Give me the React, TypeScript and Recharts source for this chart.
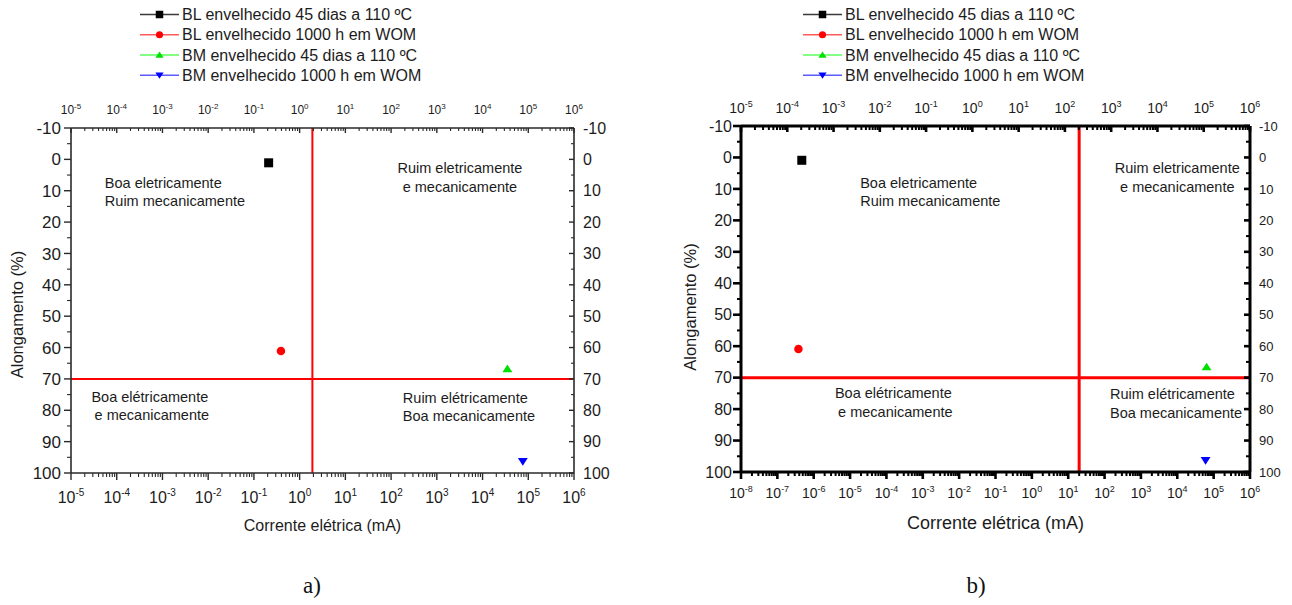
import React from 'react';
import { ScatterChart, Scatter, XAxis, YAxis, ReferenceLine } from 'recharts';

// ---------- data ----------
const seriesNames = [
  'BL envelhecido 45 dias a 110 ºC',
  'BL envelhecido 1000 h em WOM',
  'BM envelhecido 45 dias a 110 ºC',
  'BM envelhecido 1000 h em WOM',
];
const seriesColors = ['#000000', '#ff0000', '#00e000', '#0000ff'];
const legendLineColors = ['#3a3a3a', '#ff5a5a', '#5aff5a', '#5a5aff'];
const seriesShapes = ['square', 'circle', 'triangleUp', 'triangleDown'];

// chart a) : corrente (mA) vs alongamento (%)
const currentA = [0.21, 0.39, 3.5e4, 7.6e4];
const elongA = [1.1, 61.1, 66.8, 96.3];
// chart b)
const currentB = [4.7e-7, 3.8e-7, 6.4e4, 6.0e4];
const elongB = [0.9, 60.9, 66.6, 96.3];

const limitCurrentA = 1.9;
const limitElongA = 70;
const limitCurrentB = 20;
const limitElongB = 70;

// decades of the logarithmic axes
const bottomDecadesA = [-5, -4, -3, -2, -1, 0, 1, 2, 3, 4, 5, 6];
const topDecadesA = [-5, -4, -3, -2, -1, 0, 1, 2, 3, 4, 5, 6];
const bottomDecadesB = [-8, -7, -6, -5, -4, -3, -2, -1, 0, 1, 2, 3, 4, 5, 6];
const topDecadesB = [-5, -4, -3, -2, -1, 0, 1, 2, 3, 4, 5, 6];
const minorSteps = [2, 3, 4, 5, 6, 7, 8, 9];

const elongTicks = [-10, -5, 0, 5, 10, 15, 20, 25, 30, 35, 40, 45, 50, 55, 60, 65, 70, 75, 80, 85, 90, 95, 100];

// quadrant annotations
const quadrantLines = [
  ['Boa eletricamente', 'Ruim mecanicamente'],
  ['Ruim eletricamente', 'e mecanicamente'],
  ['Boa elétricamente', ' e mecanicamente'],
  ['Ruim elétricamente', 'Boa mecanicamente'],
];
const quadrantAnchors = ['start', 'middle', 'middle', 'start'];
const quadrantXA = [5.5e-5, 3.2e3, 5.3e-4, 181];
const quadrantYA = [7.5, 2.8, 75.6, 76.0];
const quadrantXB = [1.9e-5, 1.0e4, 1.55e-4, 141];
const quadrantYB = [8.0, 3.4, 74.9, 75.3];

const xTitle = 'Corrente elétrica (mA)';
const yTitle = 'Alongamento (%)';
const panelLabels = ['a)', 'b)'];

// ---------- helpers ----------
const FONT = "Arial, 'Liberation Sans', Helvetica, sans-serif";
const TEXT = '#1c1c1c';

const logTicks = (decades: number[]) => {
  const out: number[] = [];
  decades.forEach((e, i) => {
    const base = Math.pow(10, e);
    out.push(base);
    if (i < decades.length - 1) minorSteps.forEach((k) => out.push(k * base));
  });
  return out;
};
const isMajorLog = (v: number) => {
  const l = Math.log10(v);
  return Math.abs(l - Math.round(l)) < 1e-6;
};

type TickStyle = {
  color: string;
  width: number;
  minorWidth: number;
  majorLen: number;
  minorLen: number;
  fontSize: number;
  supSize: number;
  gap: number;
};

const makeXTick = (side: 'top' | 'bottom', s: TickStyle) => (props: any) => {
  const { x, y, payload } = props;
  const v = payload.value as number;
  const major = isMajorLog(v);
  const len = major ? s.majorLen : s.minorLen;
  const exp = Math.round(Math.log10(v));
  const ly = side === 'bottom' ? y + s.gap : y - s.gap;
  return (
    <g>
      <line x1={x} x2={x} y1={y} y2={y + len} stroke={s.color} strokeWidth={major ? s.width : s.minorWidth} />
      {major && (
        <text x={x} y={ly} textAnchor="middle" fontSize={s.fontSize} fontFamily={FONT} fill={TEXT}>
          <tspan>10</tspan>
          <tspan dy={-s.fontSize * 0.45} fontSize={s.supSize}>{String(exp)}</tspan>
        </text>
      )}
    </g>
  );
};

const makeYTick = (side: 'left' | 'right', s: TickStyle) => (props: any) => {
  const { x, y, payload } = props;
  const v = payload.value as number;
  const major = v % 10 === 0;
  const len = major ? s.majorLen : s.minorLen;
  return (
    <g>
      <line x1={x} x2={x - len} y1={y} y2={y} stroke={s.color} strokeWidth={major ? s.width : s.minorWidth} />
      {major && (
        <text
          x={side === 'left' ? x - s.gap : x + s.gap}
          y={y}
          dy="0.36em"
          textAnchor={side === 'left' ? 'end' : 'start'}
          fontSize={s.fontSize}
          fontFamily={FONT}
          fill={TEXT}
        >
          {String(v)}
        </text>
      )}
    </g>
  );
};

const Marker = ({ shape, cx, cy, color, size }: any) => {
  if (cx == null || cy == null) return null;
  const h = size / 2;
  if (shape === 'square') return <rect x={cx - h} y={cy - h} width={size} height={size} fill={color} />;
  if (shape === 'circle') return <circle cx={cx} cy={cy} r={h * 0.95} fill={color} />;
  if (shape === 'triangleUp')
    return <path d={`M${cx},${cy - h * 0.95} L${cx + h * 1.1},${cy + h * 0.75} L${cx - h * 1.1},${cy + h * 0.75} Z`} fill={color} />;
  return <path d={`M${cx},${cy + h * 0.95} L${cx + h * 1.1},${cy - h * 0.75} L${cx - h * 1.1},${cy - h * 0.75} Z`} fill={color} />;
};

const AnnotationShape = (props: any) => {
  const { cx, cy, payload } = props;
  if (cx == null || cy == null) return null;
  return (
    <text x={cx} y={cy} textAnchor={payload.anchor} fontSize={14.5} fontFamily={FONT} fill={TEXT} style={{ whiteSpace: 'pre' }}>
      {payload.lines.map((l: string, i: number) => (
        <tspan key={i} x={cx} dy={i === 0 ? '0.35em' : 18.5}>
          {l}
        </tspan>
      ))}
    </text>
  );
};

type PanelCfg = {
  left: number;
  width: number;
  margin: { top: number; right: number; bottom: number; left: number };
  rightAxisWidth: number;
  bottomDecades: number[];
  topDecades: number[];
  current: number[];
  elong: number[];
  limitCurrent: number;
  limitElong: number;
  qx: number[];
  qy: number[];
  axisColor: string;
  axisWidth: number;
  refWidth: number;
  markerSize: number;
  bottom: TickStyle;
  top: TickStyle;
  yl: TickStyle;
  yr: TickStyle;
  xTitleSize: number;
  xTitleDy: number;
  yTitleDx: number;
  yTitleDy: number;
};

const Panel = ({ cfg }: { cfg: PanelCfg }) => {
  const bottomTicks = logTicks(cfg.bottomDecades);
  const topTicks = logTicks(cfg.topDecades);
  const bottomDomain = [Math.pow(10, cfg.bottomDecades[0]), Math.pow(10, cfg.bottomDecades[cfg.bottomDecades.length - 1])];
  const topDomain = [Math.pow(10, cfg.topDecades[0]), Math.pow(10, cfg.topDecades[cfg.topDecades.length - 1])];
  const annotations = quadrantLines.map((lines, i) => ({ x: cfg.qx[i], y: cfg.qy[i], lines, anchor: quadrantAnchors[i] }));
  const points = cfg.current.map((x, i) => ({ x, y: cfg.elong[i] }));
  const axisLine = { stroke: cfg.axisColor, strokeWidth: cfg.axisWidth };
  return (
    <div style={{ position: 'absolute', left: cfg.left, top: 0 }}>
      <ScatterChart width={cfg.width} height={605} margin={cfg.margin}>
        <XAxis
          xAxisId="bottom"
          dataKey="x"
          type="number"
          scale="log"
          domain={bottomDomain}
          allowDataOverflow
          ticks={bottomTicks}
          interval={0}
          tickSize={0}
          tickMargin={0}
          tickLine={false}
          tick={makeXTick('bottom', cfg.bottom)}
          axisLine={axisLine}
          height={60}
          label={{
            content: (p: any) => {
              const vb = p.viewBox;
              return (
                <text x={vb.x + vb.width / 2} y={vb.y + cfg.xTitleDy} textAnchor="middle" fontSize={cfg.xTitleSize} fontFamily={FONT} fill={TEXT}>
                  {xTitle}
                </text>
              );
            },
          }}
        />
        <XAxis
          xAxisId="top"
          orientation="top"
          dataKey="x"
          type="number"
          scale="log"
          domain={topDomain}
          allowDataOverflow
          ticks={topTicks}
          interval={0}
          tickSize={0}
          tickMargin={0}
          tickLine={false}
          tick={makeXTick('top', cfg.top)}
          axisLine={axisLine}
          height={30}
        />
        <YAxis
          yAxisId="left"
          dataKey="y"
          type="number"
          domain={[-10, 100]}
          reversed
          allowDataOverflow
          ticks={elongTicks}
          interval={0}
          tickSize={0}
          tickMargin={0}
          tickLine={false}
          tick={makeYTick('left', cfg.yl)}
          axisLine={axisLine}
          width={50}
          label={{
            content: (p: any) => {
              const vb = p.viewBox;
              const tx = vb.x + cfg.yTitleDx;
              const ty = vb.y + vb.height / 2 + cfg.yTitleDy;
              return (
                <text x={tx} y={ty} transform={`rotate(-90, ${tx}, ${ty})`} textAnchor="middle" fontSize={16.5} fontFamily={FONT} fill={TEXT}>
                  {yTitle}
                </text>
              );
            },
          }}
        />
        <YAxis
          yAxisId="right"
          orientation="right"
          dataKey="y"
          type="number"
          domain={[-10, 100]}
          reversed
          allowDataOverflow
          ticks={elongTicks}
          interval={0}
          tickSize={0}
          tickMargin={0}
          tickLine={false}
          tick={makeYTick('right', cfg.yr)}
          axisLine={axisLine}
          width={cfg.rightAxisWidth}
        />
        {/* invisible series so that the mirrored top/right axes are drawn */}
        <Scatter xAxisId="top" yAxisId="right" data={points} isAnimationActive={false} shape={() => <g />} />
        <ReferenceLine xAxisId="bottom" yAxisId="left" x={cfg.limitCurrent} stroke="#ff0000" strokeWidth={cfg.refWidth} ifOverflow="hidden" />
        <ReferenceLine xAxisId="bottom" yAxisId="left" y={cfg.limitElong} stroke="#ff0000" strokeWidth={cfg.refWidth} ifOverflow="hidden" />
        <Scatter
          xAxisId="bottom"
          yAxisId="left"
          data={annotations}
          isAnimationActive={false}
          shape={(p: any) => <AnnotationShape {...p} />}
        />
        {seriesNames.map((name, i) => (
          <Scatter
            key={name}
            name={name}
            xAxisId="bottom"
            yAxisId="left"
            data={[points[i]]}
            isAnimationActive={false}
            fill={seriesColors[i]}
            shape={(p: any) => <Marker shape={seriesShapes[i]} cx={p.cx} cy={p.cy} color={seriesColors[i]} size={cfg.markerSize} />}
          />
        ))}
      </ScatterChart>
    </div>
  );
};

const thinAxis = '#2a2a2a';
const panelA: PanelCfg = {
  left: 0,
  width: 650,
  margin: { top: 98, right: 26, bottom: 72, left: 21 },
  rightAxisWidth: 50,
  bottomDecades: bottomDecadesA,
  topDecades: topDecadesA,
  current: currentA,
  elong: elongA,
  limitCurrent: limitCurrentA,
  limitElong: limitElongA,
  qx: quadrantXA,
  qy: quadrantYA,
  axisColor: thinAxis,
  axisWidth: 1.6,
  refWidth: 2,
  markerSize: 9,
  bottom: { color: thinAxis, width: 1.4, minorWidth: 1.1, majorLen: 7, minorLen: 4, fontSize: 16, supSize: 10, gap: 30 },
  top: { color: thinAxis, width: 1.4, minorWidth: 1.1, majorLen: 5, minorLen: 3, fontSize: 12, supSize: 8, gap: 14 },
  yl: { color: thinAxis, width: 1.4, minorWidth: 1.1, majorLen: 7, minorLen: 4, fontSize: 17, supSize: 10, gap: 10 },
  yr: { color: thinAxis, width: 1.4, minorWidth: 1.1, majorLen: 5, minorLen: 3, fontSize: 16, supSize: 10, gap: 9 },
  xTitleSize: 16,
  xTitleDy: 58,
  yTitleDx: 1.6,
  yTitleDy: 14,
};

const panelB: PanelCfg = {
  left: 650,
  width: 642,
  margin: { top: 96, right: 6, bottom: 73, left: 41 },
  rightAxisWidth: 36,
  bottomDecades: bottomDecadesB,
  topDecades: topDecadesB,
  current: currentB,
  elong: elongB,
  limitCurrent: limitCurrentB,
  limitElong: limitElongB,
  qx: quadrantXB,
  qy: quadrantYB,
  axisColor: '#000000',
  axisWidth: 3,
  refWidth: 3,
  markerSize: 9,
  bottom: { color: '#000', width: 2.6, minorWidth: 2, majorLen: 7, minorLen: 4, fontSize: 14, supSize: 9, gap: 26 },
  top: { color: '#000', width: 2.6, minorWidth: 2, majorLen: 6, minorLen: 4, fontSize: 14, supSize: 9, gap: 13 },
  yl: { color: '#000', width: 2.6, minorWidth: 2, majorLen: 8, minorLen: 4, fontSize: 16, supSize: 9, gap: 9 },
  yr: { color: '#000', width: 2.6, minorWidth: 2, majorLen: 6, minorLen: 4, fontSize: 13, supSize: 9, gap: 9 },
  xTitleSize: 18,
  xTitleDy: 57,
  yTitleDx: 4.6,
  yTitleDy: 8,
};

const legendLefts = [140, 803];
const legendRowY = [14.5, 34.7, 55, 75.3];

const Overlay = () => (
  <svg width={1292} height={605} style={{ position: 'absolute', left: 0, top: 0, pointerEvents: 'none' }}>
    {legendLefts.map((lx, p) => (
      <g key={p}>
        {seriesNames.map((name, i) => {
          const cy = legendRowY[i];
          return (
            <g key={name}>
              <line x1={lx} x2={lx + 39} y1={cy} y2={cy} stroke={legendLineColors[i]} strokeWidth={1.4} />
              <Marker shape={seriesShapes[i]} cx={lx + 19.5} cy={cy} color={seriesColors[i]} size={7.5} />
              <text x={lx + 42} y={cy + 5.6} fontSize={16} fontFamily={FONT} fill={TEXT}>
                {name}
              </text>
            </g>
          );
        })}
      </g>
    ))}
    <text x={312} y={593} textAnchor="middle" fontSize={23} fontFamily="'Liberation Serif', 'Times New Roman', serif" fill="#111">
      {panelLabels[0]}
    </text>
    <text x={976} y={593} textAnchor="middle" fontSize={23} fontFamily="'Liberation Serif', 'Times New Roman', serif" fill="#111">
      {panelLabels[1]}
    </text>
  </svg>
);

export default function App() {
  return (
    <div style={{ position: 'absolute', left: 0, top: 0, width: 1292, height: 605, background: '#fff', overflow: 'hidden' }}>
      <Panel cfg={panelA} />
      <Panel cfg={panelB} />
      <Overlay />
    </div>
  );
}
